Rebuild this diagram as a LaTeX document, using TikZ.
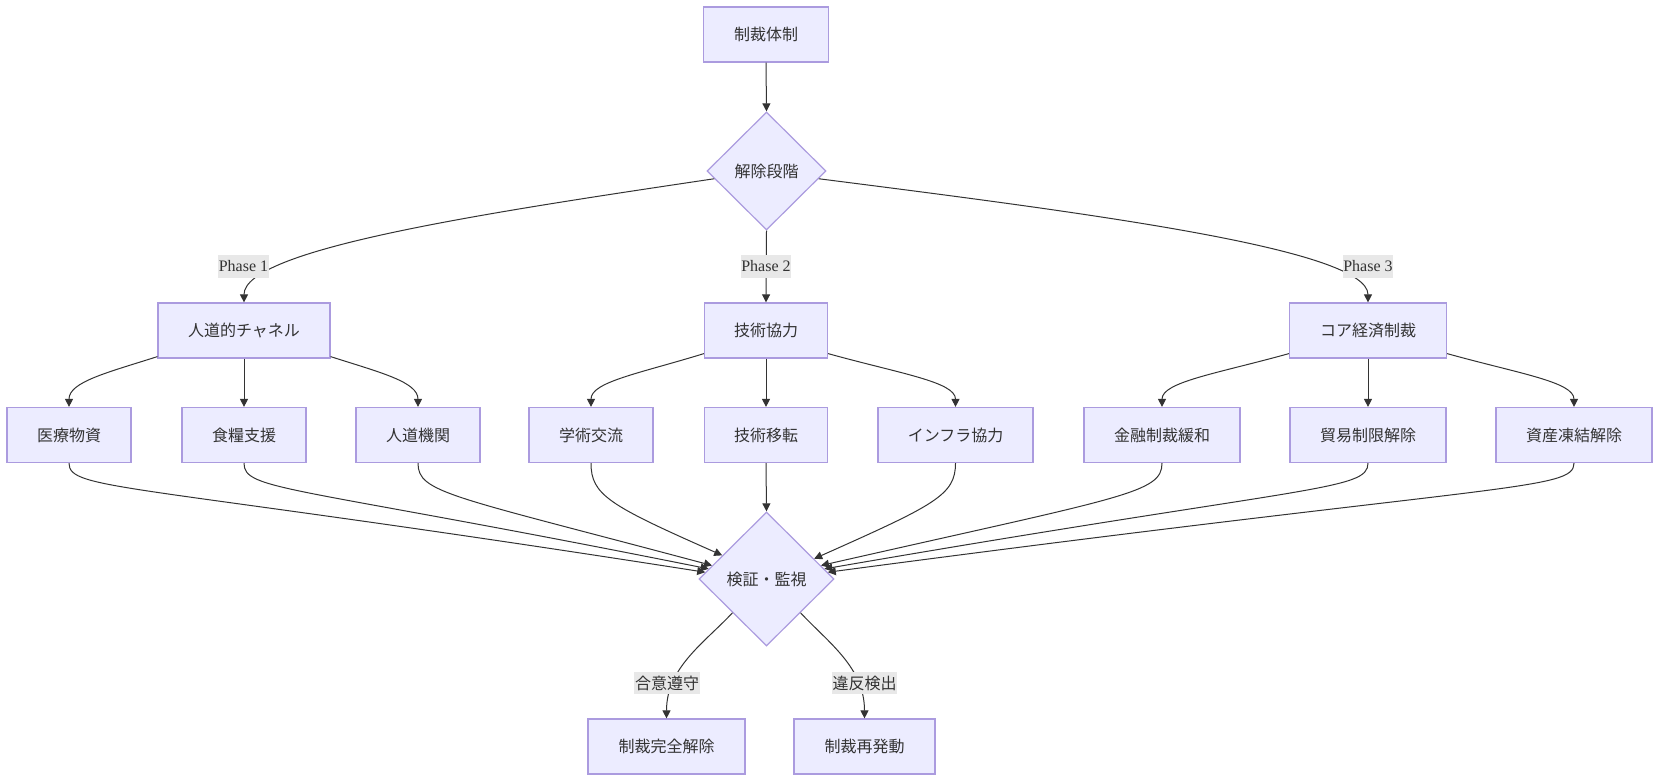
\documentclass[tikz,border=0pt]{standalone}
\usepackage{fontspec}
\setmainfont{Liberation Serif}
\newfontfamily\jp{Noto Sans CJK JP}
\usetikzlibrary{shapes.geometric,arrows.meta,calc}
\definecolor{nodefill}{HTML}{ECECFF}
\definecolor{nodeline}{HTML}{AB9BDF}
\definecolor{ink}{HTML}{333333}
\definecolor{lblbg}{HTML}{E8E8E8}
\tikzset{
  box/.style={draw=nodeline,fill=nodefill,line width=0.9pt,rectangle,minimum height=41.25pt,inner sep=0pt,font=\jp\fontsize{12pt}{14pt}\selectfont,text=ink},
  dia/.style={draw=nodeline,fill=nodefill,line width=0.9pt,diamond,inner sep=0pt,font=\jp\fontsize{12pt}{14pt}\selectfont,text=ink},
  edge/.style={draw=ink,line width=0.75pt,-{Triangle[length=6pt,width=6pt]}},
  lbl/.style={fill=lblbg,inner xsep=0.5pt,inner ysep=0pt,minimum height=17pt,text=ink,font=\fontsize{12pt}{14pt}\selectfont},
  jlbl/.style={lbl,font=\jp\fontsize{12pt}{14pt}\selectfont}
}
\begin{document}
\begin{tikzpicture}[x=0.75pt,y=-0.75pt]
\useasboundingbox (0,0) rectangle (1660,782);
% nodes
\node[box,minimum width=93.75pt] (top) at (766,34.5) {制裁体制};
\node[dia,minimum width=89.25pt,minimum height=88.5pt] (d1) at (766.5,171) {解除段階};
\node[box,minimum width=129pt] (c1) at (244,330.5) {人道的チャネル};
\node[box,minimum width=92.25pt] (c2) at (766,330.5) {技術協力};
\node[box,minimum width=117.75pt] (c3) at (1368,330.5) {コア経済制裁};
\node[box,minimum width=93pt] (m1) at (69,435) {医療物資};
\node[box,minimum width=93pt] (m2) at (244,435) {食糧支援};
\node[box,minimum width=93pt] (m3) at (418,435) {人道機関};
\node[box,minimum width=93pt] (t1) at (591,435) {学術交流};
\node[box,minimum width=92.25pt] (t2) at (766,435) {技術移転};
\node[box,minimum width=116.25pt] (t3) at (955.5,435) {インフラ協力};
\node[box,minimum width=117pt] (e1) at (1162,435) {金融制裁緩和};
\node[box,minimum width=117pt] (e2) at (1368,435) {貿易制限解除};
\node[box,minimum width=117pt] (e3) at (1574,435) {資産凍結解除};
\node[dia,minimum width=101.25pt,minimum height=100.5pt] (d2) at (766.5,579) {検証・監視};
\node[box,minimum width=117.75pt] (f1) at (666.5,746.5) {制裁完全解除};
\node[box,minimum width=105.75pt] (f2) at (864.5,746.5) {制裁再発動};
% edges
\draw[edge] (top.south) -- (d1.north);
\draw[edge] ($(d1.west)!0.13!(d1.south)$) .. controls +(-235,35) and +(0,-53) .. (c1.north);
\draw[edge] (d1.south) -- (c2.north);
\draw[edge] ($(d1.east)!0.13!(d1.south)$) .. controls +(275,35) and +(0,-53) .. (c3.north);
\draw[edge] ($(c1.south west)+(0,-2)$) .. controls +(-50,16) and +(0,-25) .. (m1.north);
\draw[edge] (c1.south) -- (m2.north);
\draw[edge] ($(c1.south east)+(0,-2)$) .. controls +(50,16) and +(0,-25) .. (m3.north);
\draw[edge] ($(c2.south west)+(0,-5)$) .. controls +(-65,20) and +(0,-25) .. (t1.north);
\draw[edge] (c2.south) -- (t2.north);
\draw[edge] ($(c2.south east)+(0,-5)$) .. controls +(72,20) and +(0,-25) .. (t3.north);
\draw[edge] ($(c3.south west)+(0,-5)$) .. controls +(-72,20) and +(0,-25) .. (e1.north);
\draw[edge] (c3.south) -- (e2.north);
\draw[edge] ($(c3.south east)+(0,-5)$) .. controls +(72,20) and +(0,-25) .. (e3.north);
\draw[edge] (m1.south) .. controls +(0,28) and +(-576,-90) .. ($(d2.west)!0.1!(d2.north)$);
\draw[edge] (m2.south) .. controls +(0,28) and +(-419,-84) .. ($(d2.west)!0.15!(d2.north)$);
\draw[edge] (m3.south) .. controls +(0,30) and +(-262,-70) .. ($(d2.west)!0.2!(d2.north)$);
\draw[edge] (t1.south) .. controls +(0,32) and +(-113,-50) .. ($(d2.west)!0.35!(d2.north)$);
\draw[edge] (t2.south) -- (d2.north);
\draw[edge] (t3.south) .. controls +(0,32) and +(121,-54) .. ($(d2.east)!0.3!(d2.north)$);
\draw[edge] (e1.south) .. controls +(0,30) and +(304,-69) .. ($(d2.east)!0.2!(d2.north)$);
\draw[edge] (e2.south) .. controls +(0,28) and +(486,-84) .. ($(d2.east)!0.15!(d2.north)$);
\draw[edge] (e3.south) .. controls +(0,28) and +(678,-90) .. ($(d2.east)!0.1!(d2.north)$);
\draw[edge] ($(d2.west)!0.5!(d2.south)$) .. controls +(-28,30) and +(0,-51) .. (f1.north);
\draw[edge] ($(d2.east)!0.5!(d2.south)$) .. controls +(28,30) and +(0,-51) .. (f2.north);
% labels
\node[lbl] (l1) at (243.5,266.5) {Phase 1};
\node[lbl] (l2) at (766,266.5) {Phase 2};
\node[lbl] (l3) at (1368,266.5) {Phase 3};
\node[jlbl] (l4) at (667,683) {合意遵守};
\node[jlbl] (l5) at (864.5,683) {違反検出};
\end{tikzpicture}
\end{document}
